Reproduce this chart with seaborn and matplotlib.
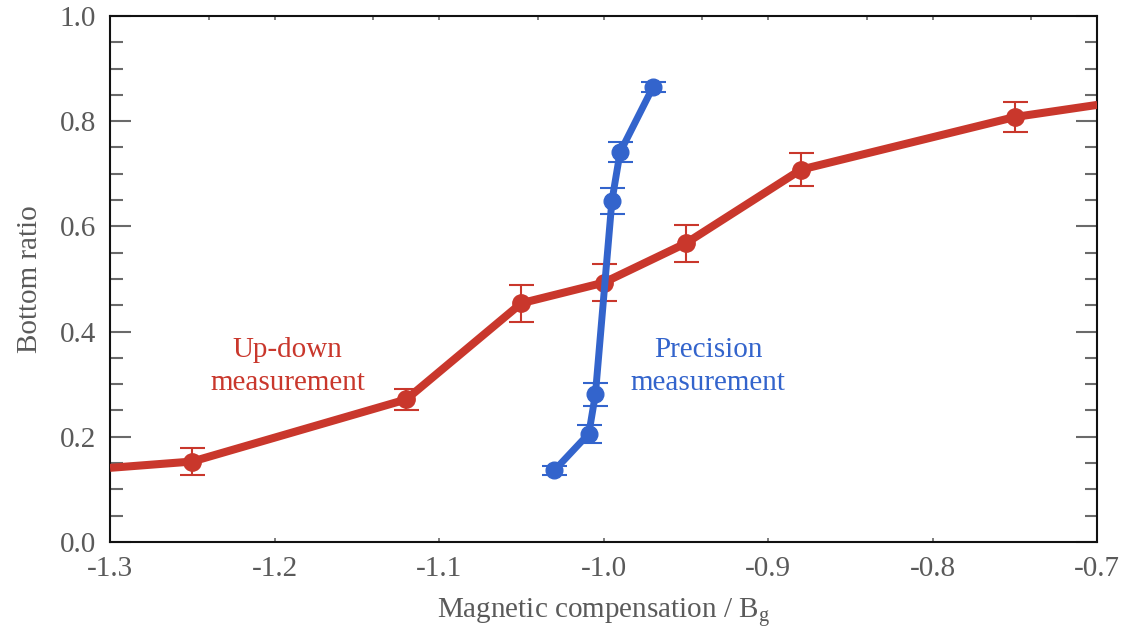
import numpy as np
import pandas as pd
import seaborn as sns
import matplotlib
matplotlib.use("Agg")
import matplotlib.pyplot as plt

# Up-down measurement: trace runs edge to edge, markers at measured points
updown_line_x = [-1.30, -1.25, -1.12, -1.05, -1.00, -0.95, -0.88, -0.75, -0.70]
updown_line_y = [0.141, 0.153, 0.271, 0.454, 0.493, 0.568, 0.708, 0.808, 0.831]
updown_x = [-1.25, -1.12, -1.05, -1.00, -0.95, -0.88, -0.75]
updown_y = [0.153, 0.271, 0.454, 0.493, 0.568, 0.708, 0.808]
updown_err = [0.025, 0.020, 0.035, 0.035, 0.035, 0.032, 0.028]

# Precision measurement
precision_x = [-1.030, -1.009, -1.005, -0.995, -0.990, -0.970]
precision_y = [0.136, 0.206, 0.281, 0.648, 0.741, 0.865]
precision_err = [0.008, 0.017, 0.022, 0.025, 0.019, 0.009]

x_ticks = [-1.3, -1.2, -1.1, -1.0, -0.9, -0.8, -0.7]
y_ticks = [0.0, 0.2, 0.4, 0.6, 0.8, 1.0]
top_ticks = [-1.24, -1.20, -1.14, -1.10, -1.04, -1.00, -0.94, -0.90, -0.84, -0.80, -0.74]

RED = "#C9372C"
BLUE = "#3364CC"
TEXT_GREY = "#5a5a5a"
TICK_GREY = "#6a6a6a"

sns.set_theme(style="white")
plt.rcParams["font.family"] = ["Liberation Serif", "DejaVu Serif"]
plt.rcParams["mathtext.fontset"] = "custom"
plt.rcParams["mathtext.rm"] = "Liberation Serif"
plt.rcParams["mathtext.it"] = "Liberation Serif:italic"

fig = plt.figure(figsize=(11.24, 6.32), dpi=100)
ax = fig.add_axes([0.0979, 0.1424, 0.8783, 0.8323])

df_ud = pd.DataFrame({"x": updown_line_x, "y": updown_line_y})
df_pr = pd.DataFrame({"x": precision_x, "y": precision_y})

sns.lineplot(data=df_ud, x="x", y="y", ax=ax, color=RED, lw=5.8,
             sort=False, estimator=None, solid_capstyle="butt", zorder=3)
sns.lineplot(data=df_pr, x="x", y="y", ax=ax, color=BLUE, lw=5.0,
             sort=False, estimator=None, solid_capstyle="butt", zorder=4)

ax.errorbar(updown_x, updown_y, yerr=updown_err, fmt="o", color=RED,
            ms=12.5, elinewidth=1.5, capsize=9, capthick=1.5, zorder=3)
ax.errorbar(precision_x, precision_y, yerr=precision_err, fmt="o", color=BLUE,
            ms=12, elinewidth=1.5, capsize=9, capthick=1.5, zorder=4)

ax.text(-1.192, 0.334, "Up-down\nmeasurement", color=RED, fontsize=21,
        ha="center", va="center", linespacing=1.35)
ax.text(-0.9365, 0.334, "Precision\nmeasurement", color=BLUE, fontsize=21,
        ha="center", va="center", linespacing=1.35)

ax.set_xlim(-1.3, -0.7)
ax.set_ylim(0.0, 1.0)
ax.set_xticks(x_ticks)
ax.set_xticklabels([f"{v:.1f}" for v in x_ticks])
ax.set_yticks(y_ticks)
ax.set_yticklabels([f"{v:.1f}" for v in y_ticks])
ax.set_yticks(np.arange(0.0, 1.0001, 0.05), minor=True)

ax.set_xlabel("Magnetic compensation / B$_\\mathrm{g}$", fontsize=21,
              color=TEXT_GREY, labelpad=10)
ax.set_ylabel("Bottom ratio", fontsize=21, color=TEXT_GREY, labelpad=12)

for side in ["left", "right", "top", "bottom"]:
    ax.spines[side].set_visible(True)
    ax.spines[side].set_color("#111111")
    ax.spines[side].set_linewidth(1.5)

ax.tick_params(axis="y", which="major", direction="in", length=15, width=1.5,
               color=TICK_GREY, left=True, right=True, labelsize=21,
               labelcolor=TEXT_GREY, pad=10)
ax.tick_params(axis="y", which="minor", direction="in", length=9, width=1.5,
               color=TICK_GREY, left=True, right=True)
ax.tick_params(axis="x", which="major", direction="in", length=3, width=1.2,
               color=TICK_GREY, bottom=True, top=False, labelsize=21,
               labelcolor=TEXT_GREY, pad=10)

# small ticks along the top edge
top = ax.secondary_xaxis("top")
top.set_xticks(top_ticks)
top.set_xticklabels([])
top.tick_params(direction="in", length=3, width=1.2, color=TICK_GREY)
top.spines["top"].set_visible(False)

fig.savefig("out.png", dpi=100)
